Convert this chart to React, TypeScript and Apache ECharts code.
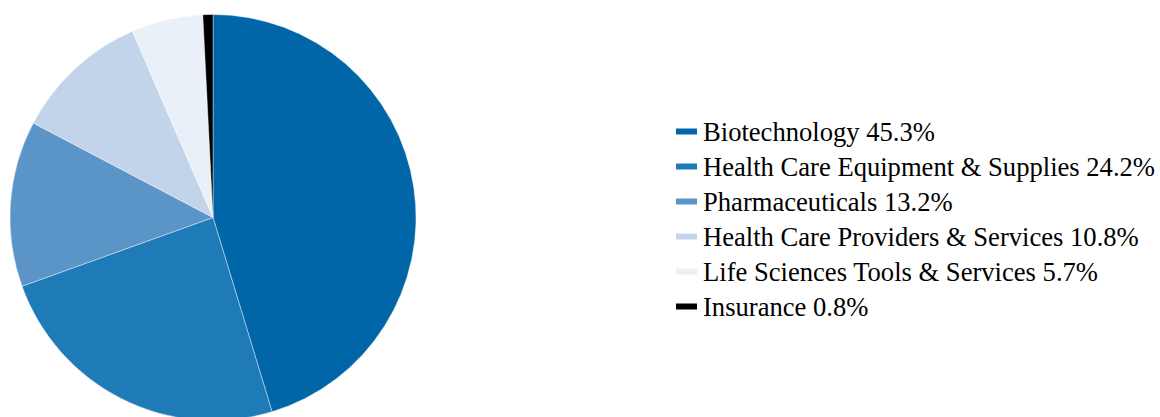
import React, { useEffect, useRef } from "react";
import * as echarts from "echarts";

const categories = [
  "Biotechnology",
  "Health Care Equipment & Supplies",
  "Pharmaceuticals",
  "Health Care Providers & Services",
  "Life Sciences Tools & Services",
  "Insurance",
];
const values = [45.3, 24.2, 13.2, 10.8, 5.7, 0.8];
const colors = ["#0066a8", "#1f7ab8", "#5b95c8", "#c2d4ea", "#eaf0f8", "#000000"];

const FONT = "'Liberation Serif', 'Times New Roman', Times, serif";

export default function App() {
  const ref = useRef<HTMLDivElement>(null);
  useEffect(() => {
    if (!ref.current) return;
    const chart = echarts.init(ref.current, undefined, { renderer: "svg" });
    const data = categories.map((name, i) => ({
      name,
      value: values[i],
      itemStyle: { color: colors[i] },
    }));
    chart.setOption({
      animation: false,
      textStyle: { fontFamily: FONT },
      legend: {
        orient: "vertical",
        left: 674,
        top: 118,
        padding: 0,
        itemWidth: 23,
        itemHeight: 8,
        itemGap: 8,
        icon: "rect",
        data: categories,
        formatter: (name: string) => {
          const i = categories.indexOf(name);
          return `${name} ${values[i].toFixed(1)}%`;
        },
        textStyle: {
          fontFamily: FONT,
          fontSize: 26.6,
          lineHeight: 26,
          color: "#000",
        },
        selectedMode: false,
      },
      series: [
        {
          type: "pie",
          center: [213, 217.5],
          radius: 203,
          startAngle: 90,
          clockwise: true,
          label: { show: false },
          labelLine: { show: false },
          emphasis: { disabled: true },
          itemStyle: { borderColor: "#ffffff", borderWidth: 0.4 },
          data,
        },
      ],
    });
    return () => chart.dispose();
  }, []);
  return (
    <div
      ref={ref}
      style={{ position: "absolute", left: 0, top: 0, width: 1160, height: 417 }}
    />
  );
}
